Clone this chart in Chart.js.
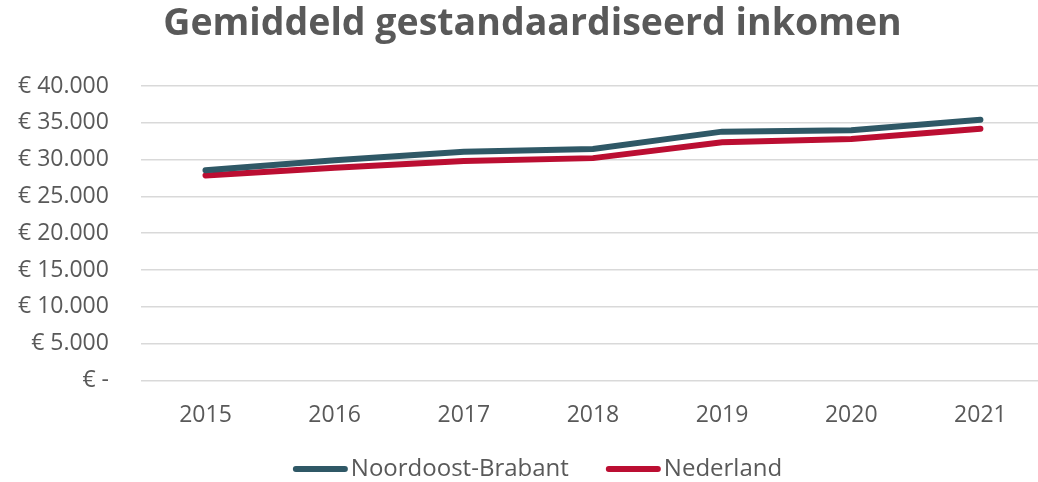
<!DOCTYPE html>
<html><head><meta charset="utf-8">
<script src="https://cdn.jsdelivr.net/npm/chart.js@4/dist/chart.umd.min.js"></script>
<style>html,body{margin:0;padding:0;overflow:hidden;background:#fff;width:1038px;height:482px}</style>
</head><body>
<canvas id="c" width="1065" height="482"></canvas>
<script>
const categories = ['2015','2016','2017','2018','2019','2020','2021'];
const noordoostBrabant = [28550, 29900, 31050, 31450, 33800, 34000, 35400];
const nederland = [27850, 28900, 29800, 30200, 32350, 32800, 34200];
const yTicks = [0, 5000, 10000, 15000, 20000, 25000, 30000, 35000, 40000];
const titleText = 'Gemiddeld gestandaardiseerd inkomen';

function fmt(v){
  if (v === 0) return '€ -';
  return '€ ' + String(v).replace(/\B(?=(\d{3})+(?!\d))/g, '.');
}
const gray = '#595959';
const FONT = '"Open Sans", sans-serif';
Chart.defaults.font.family = FONT;

const titleAndLegend = {
  id: 'titleAndLegend',
  afterDraw(chart) {
    const ctx = chart.ctx;
    ctx.save();
    // title
    ctx.font = 'bold 37.5px ' + FONT;
    ctx.fillStyle = gray; ctx.textAlign = 'center'; ctx.textBaseline = 'middle';
    ctx.fillText(titleText, chart.width / 2, 24.5);
    // legend
    const fs = 24, lineLen = 55, gap = 3, itemGap = 37;
    ctx.font = fs + 'px ' + FONT;
    const items = chart.data.datasets.map(d => ({text: d.label, color: d.borderColor, w: ctx.measureText(d.label).width}));
    let total = items.reduce((s, it) => s + lineLen + gap + it.w, 0) + itemGap * (items.length - 1);
    let x = chart.width / 2 - total / 2 + 5;
    const y = chart.height - 13;
    items.forEach(it => {
      ctx.strokeStyle = it.color; ctx.lineWidth = 6; ctx.lineCap = 'round';
      ctx.beginPath(); ctx.moveTo(x + 3, y); ctx.lineTo(x + lineLen - 3, y); ctx.stroke();
      ctx.fillStyle = gray; ctx.textBaseline = 'middle'; ctx.textAlign = 'left';
      ctx.fillText(it.text, x + lineLen + gap, y);
      x += lineLen + gap + it.w + itemGap;
    });
    ctx.restore();
  }
};

new Chart(document.getElementById('c'), {
  type: 'line',
  data: {
    labels: categories,
    datasets: [
      {label: 'Noordoost-Brabant', data: noordoostBrabant, borderColor: '#2f5866', borderWidth: 6, pointRadius: 0, borderCapStyle: 'round', tension: 0},
      {label: 'Nederland', data: nederland, borderColor: '#bb0e32', borderWidth: 6, pointRadius: 0, borderCapStyle: 'round', tension: 0}
    ]
  },
  plugins: [titleAndLegend],
  options: {
    responsive: false,
    animation: false,
    layout: {padding: {left: -14, right: 20, top: 86, bottom: 40}},
    plugins: {
      title: {display: false},
      legend: {display: false},
      tooltip: {enabled: false}
    },
    scales: {
      x: {
        offset: true,
        grid: {display: false},
        border: {display: false},
        ticks: {color: gray, font: {size: 23}, padding: 13, maxRotation: 0}
      },
      y: {
        min: 0, max: 40000,
        afterBuildTicks: axis => { axis.ticks = yTicks.map(v => ({value: v})); },
        grid: {color: '#d9d9d9', lineWidth: 1.5, drawTicks: false},
        border: {display: false},
        ticks: {color: gray, font: {size: 23}, padding: 32, callback: v => fmt(v)}
      }
    }
  }
});
</script>
</body></html>
